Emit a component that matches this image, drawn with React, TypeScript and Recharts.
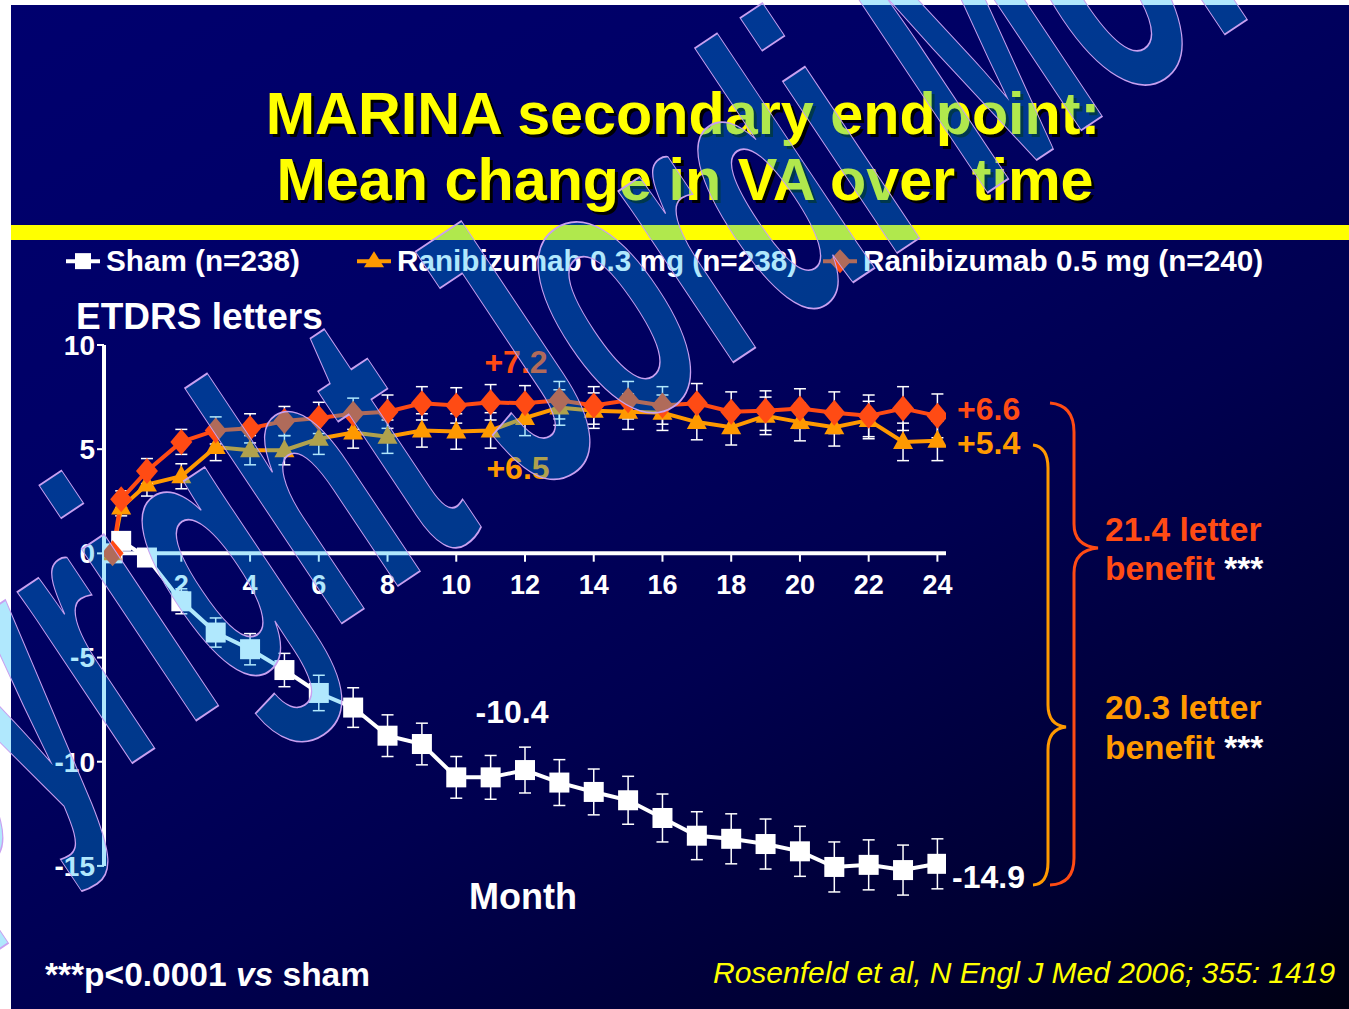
import React from "react";
import {
  ComposedChart,
  Line,
  XAxis,
  YAxis,
  ErrorBar,
  ReferenceLine,
  ReferenceDot,
} from "recharts";

// ---------- data ----------
const months = [0, 0.25, 1, 2, 3, 4, 5, 6, 7, 8, 9, 10, 11, 12, 13, 14, 15, 16, 17, 18, 19, 20, 21, 22, 23, 24];
const shamValues = [0, 0.6, -0.2, -2.3, -3.8, -4.6, -5.6, -6.7, -7.4, -8.75, -9.15, -10.75, -10.75, -10.4, -11.0, -11.45, -11.85, -12.7, -13.55, -13.7, -13.95, -14.3, -15.05, -14.95, -15.2, -14.9];
const shamErr = [0, 0.3, 0.4, 0.6, 0.7, 0.75, 0.8, 0.85, 0.95, 1.0, 1.0, 1.0, 1.05, 1.1, 1.1, 1.1, 1.15, 1.15, 1.15, 1.2, 1.2, 1.2, 1.2, 1.2, 1.2, 1.2];
const rani03Values = [0, 2.2, 3.3, 3.7, 5.1, 4.95, 4.95, 5.5, 5.8, 5.6, 5.9, 5.85, 5.9, 6.5, 7.0, 6.85, 6.8, 6.75, 6.3, 6.05, 6.6, 6.3, 6.05, 6.4, 5.35, 5.4];
const rani03Err = [0, 0.4, 0.55, 0.6, 0.65, 0.7, 0.7, 0.75, 0.75, 0.8, 0.8, 0.85, 0.85, 0.85, 0.85, 0.85, 0.85, 0.85, 0.85, 0.85, 0.9, 0.9, 0.9, 0.9, 0.9, 0.95];
const rani05Values = [0, 2.6, 3.95, 5.35, 5.9, 6.0, 6.35, 6.5, 6.7, 6.8, 7.2, 7.1, 7.25, 7.2, 7.35, 7.1, 7.35, 7.1, 7.2, 6.8, 6.85, 6.95, 6.75, 6.6, 6.95, 6.6];
const rani05Err = [0, 0.4, 0.6, 0.6, 0.65, 0.7, 0.7, 0.75, 0.75, 0.8, 0.8, 0.85, 0.85, 0.85, 0.9, 0.9, 0.9, 0.9, 0.95, 0.95, 0.95, 0.95, 1.0, 1.0, 1.05, 1.05];

const xTickMonths = [2, 4, 6, 8, 10, 12, 14, 16, 18, 20, 22, 24];
const yTicks = [-15, -10, -5, 0, 5, 10];
const yAxisMin = -15;
const yAxisMax = 10;
const xDomain = [-0.25, 24.25];
const yDomain = [-17.5, 10];

const seriesNames = ["Sham (n=238)", "Ranibizumab 0.3 mg (n=238)", "Ranibizumab 0.5 mg (n=240)"];

const rows = months.map((m, i) => ({
  month: m,
  sham: shamValues[i],
  shamErr: shamErr[i],
  r03: rani03Values[i],
  r03Err: rani03Err[i],
  r05: rani05Values[i],
  r05Err: rani05Err[i],
}));

// ---------- style ----------
const FONT = "'Liberation Sans', Arial, Helvetica, sans-serif";
const RED = "#ff4b14";
const ORANGE = "#ff9900";
const WHITE = "#ffffff";
const YELLOW = "#ffff00";

const SquareDot = (props: any) => {
  const { cx, cy, index } = props;
  if (cx == null || cy == null) return <g key={index} />;
  return <rect key={index} x={cx - 10} y={cy - 10} width={20} height={20} fill={WHITE} />;
};
const DiamondDot = (props: any) => {
  const { cx, cy, index } = props;
  if (cx == null || cy == null) return <g key={index} />;
  return (
    <polygon
      key={index}
      points={`${cx},${cy - 13} ${cx + 11},${cy} ${cx},${cy + 13} ${cx - 11},${cy}`}
      fill={RED}
    />
  );
};
const TriangleDot = (props: any) => {
  const { cx, cy, index } = props;
  if (cx == null || cy == null) return <g key={index} />;
  return (
    <polygon
      key={index}
      points={`${cx},${cy - 11} ${cx + 10},${cy + 7} ${cx - 10},${cy + 7}`}
      fill={ORANGE}
    />
  );
};

const Txt = ({
  x,
  y,
  size,
  color,
  children,
  align = "left",
  bold = true,
  italic = false,
  shadow,
}: any) => (
  <div
    style={{
      position: "absolute",
      left: x,
      top: y,
      transform: align === "center" ? "translate(-50%,-50%)" : "translateY(-50%)",
      fontFamily: FONT,
      fontSize: size,
      fontWeight: bold ? "bold" : "normal",
      fontStyle: italic ? "italic" : "normal",
      color,
      whiteSpace: "nowrap",
      lineHeight: 1,
      textShadow: shadow,
    }}
  >
    {children}
  </div>
);

const LegendItem = ({ x, kind, label }: any) => {
  const color = kind === "square" ? WHITE : kind === "triangle" ? ORANGE : RED;
  return (
    <div style={{ position: "absolute", left: x, top: 261, transform: "translateY(-50%)", display: "flex", alignItems: "center" }}>
      <svg width={36} height={26} style={{ display: "block" }}>
        <line x1={0} y1={13} x2={34} y2={13} stroke={color} strokeWidth={4} />
        {kind === "square" && <rect x={9} y={5} width={16} height={16} fill={WHITE} />}
        {kind === "triangle" && <polygon points="17,3 27,19 7,19" fill={ORANGE} />}
        {kind === "diamond" && <polygon points="17,1 28,13 17,25 6,13" fill={RED} />}
      </svg>
      <span style={{ fontFamily: FONT, fontWeight: "bold", fontSize: 29.7, color: WHITE, marginLeft: 4, lineHeight: 1, whiteSpace: "nowrap" }}>
        {label}
      </span>
    </div>
  );
};

export default function App() {
  return (
    <div style={{ position: "absolute", left: 0, top: 0, width: 1349, height: 1009, background: "#ffffff", overflow: "hidden" }}>
      {/* slide background */}
      <div
        style={{
          position: "absolute",
          left: 11,
          top: 5,
          width: 1338,
          height: 1004,
          background: "linear-gradient(150deg, #00006e 0%, #000064 35%, #000050 60%, #000030 85%, #000012 100%)",
        }}
      />
      {/* yellow band */}
      <div style={{ position: "absolute", left: 11, top: 225, width: 1338, height: 15, background: YELLOW }} />

      {/* title */}
      <Txt x={683} y={114} size={59.3} color={YELLOW} align="center" shadow="3px 3px 0 #000">
        MARINA secondary endpoint:
      </Txt>
      <Txt x={685} y={180} size={59.3} color={YELLOW} align="center" shadow="3px 3px 0 #000">
        Mean change in VA over time
      </Txt>

      {/* legend */}
      <LegendItem x={66} kind="square" label={seriesNames[0]} />
      <LegendItem x={357} kind="triangle" label={seriesNames[1]} />
      <LegendItem x={823} kind="diamond" label={seriesNames[2]} />

      <Txt x={76} y={316} size={37} color={WHITE}>ETDRS letters</Txt>

      {/* chart */}
      <div style={{ position: "absolute", left: 0, top: 0 }}>
        <ComposedChart
          width={1349}
          height={1009}
          data={rows}
          margin={{ top: 345, left: 44, right: 403, bottom: 91 }}
        >
          <XAxis type="number" dataKey="month" domain={xDomain} hide allowDataOverflow />
          <YAxis
            type="number"
            domain={yDomain}
            ticks={yTicks}
            width={60}
            allowDataOverflow
            axisLine={false}
            tickLine={{ stroke: WHITE, strokeWidth: 2 }}
            tickSize={7}
            tickMargin={2}
            tick={{ fill: WHITE, fontSize: 28, fontWeight: "bold", fontFamily: FONT }}
          />
          <ReferenceLine
            segment={[
              { x: xDomain[0], y: yAxisMin },
              { x: xDomain[0], y: yAxisMax },
            ]}
            stroke={WHITE}
            strokeWidth={4}
            ifOverflow="visible"
          />
          <ReferenceLine y={0} stroke={WHITE} strokeWidth={4} ifOverflow="visible" />
          {xTickMonths.map((t) => (
            <ReferenceLine
              key={`tk${t}`}
              segment={[
                { x: t, y: 0 },
                { x: t, y: -0.4 },
              ]}
              stroke={WHITE}
              strokeWidth={2}
            />
          ))}
          {xTickMonths.map((t) => (
            <ReferenceDot
              key={`tl${t}`}
              x={t}
              y={-1.5}
              r={1}
              fill="none"
              stroke="none"
              label={{ value: String(t), position: "center", fill: WHITE, fontSize: 27, fontWeight: "bold", fontFamily: FONT }}
            />
          ))}

          <Line
            dataKey="sham"
            stroke={WHITE}
            strokeWidth={4}
            dot={SquareDot}
            activeDot={false}
            isAnimationActive={false}
            type="linear"
          >
            <ErrorBar dataKey="shamErr" direction="y" width={6} stroke={WHITE} strokeWidth={1.5} />
          </Line>
          <Line
            dataKey="r03"
            stroke={ORANGE}
            strokeWidth={4}
            dot={TriangleDot}
            activeDot={false}
            isAnimationActive={false}
            type="linear"
          >
            <ErrorBar dataKey="r03Err" direction="y" width={6} stroke={WHITE} strokeWidth={1.5} />
          </Line>
          <Line
            dataKey="r05"
            stroke={RED}
            strokeWidth={4}
            dot={DiamondDot}
            activeDot={false}
            isAnimationActive={false}
            type="linear"
          >
            <ErrorBar dataKey="r05Err" direction="y" width={6} stroke={WHITE} strokeWidth={1.5} />
          </Line>
        </ComposedChart>
      </div>

      {/* value annotations */}
      <Txt x={516} y={362} size={32} color={RED} align="center">+7.2</Txt>
      <Txt x={518} y={468} size={32} color={ORANGE} align="center">+6.5</Txt>
      <Txt x={512} y={712} size={32} color={WHITE} align="center">-10.4</Txt>
      <Txt x={957} y={409} size={32} color={RED}>+6.6</Txt>
      <Txt x={957} y={443} size={32} color={ORANGE}>+5.4</Txt>
      <Txt x={952} y={877} size={32} color={WHITE}>-14.9</Txt>
      <Txt x={523} y={897} size={36} color={WHITE} align="center">Month</Txt>

      {/* braces */}
      <svg width={1349} height={1009} style={{ position: "absolute", left: 0, top: 0, pointerEvents: "none" }}>
        <path
          d="M1050,403 Q1074,405 1074,432 L1074,524 Q1074,546 1098,548 Q1074,550 1074,573 L1074,858 Q1074,884 1050,885"
          fill="none"
          stroke={RED}
          strokeWidth={3}
        />
        <path
          d="M1033,445 Q1048,447 1048,468 L1048,705 Q1048,725 1066,727 Q1048,729 1048,750 L1048,862 Q1048,884 1033,885"
          fill="none"
          stroke={ORANGE}
          strokeWidth={3}
        />
      </svg>

      <Txt x={1105} y={530} size={33.5} color={RED}>21.4 letter</Txt>
      <Txt x={1105} y={569} size={33.5} color={RED}>
        benefit <span style={{ color: WHITE }}>***</span>
      </Txt>
      <Txt x={1105} y={708} size={33.5} color={ORANGE}>20.3 letter</Txt>
      <Txt x={1105} y={748} size={33.5} color={ORANGE}>
        benefit <span style={{ color: WHITE }}>***</span>
      </Txt>

      {/* footer */}
      <Txt x={45} y={975} size={33.5} color={WHITE}>
        ***p&lt;0.0001 <span style={{ fontStyle: "italic" }}>vs</span> sham
      </Txt>
      <Txt x={713} y={973} size={30} color={YELLOW} bold={false} italic>
        Rosenfeld et al, N Engl J Med 2006; 355: 1419
      </Txt>

      {/* watermark overlay */}
      <svg width={1349} height={1009} style={{ position: "absolute", left: 0, top: 0, pointerEvents: "none" }}>
        <text
          transform="translate(-289 1044) rotate(-33.7) scale(1.97 3.9)"
          fontSize={100}
          fontFamily={FONT}
          fontWeight="bold"
          fill="rgba(0,180,250,0.31)"
          stroke="#c8a0f0"
          strokeWidth={1.5}
          vectorEffect="non-scaling-stroke"
          style={{ vectorEffect: "non-scaling-stroke" } as any}
        >
          Copyright Jordi Monés
        </text>
      </svg>
    </div>
  );
}
